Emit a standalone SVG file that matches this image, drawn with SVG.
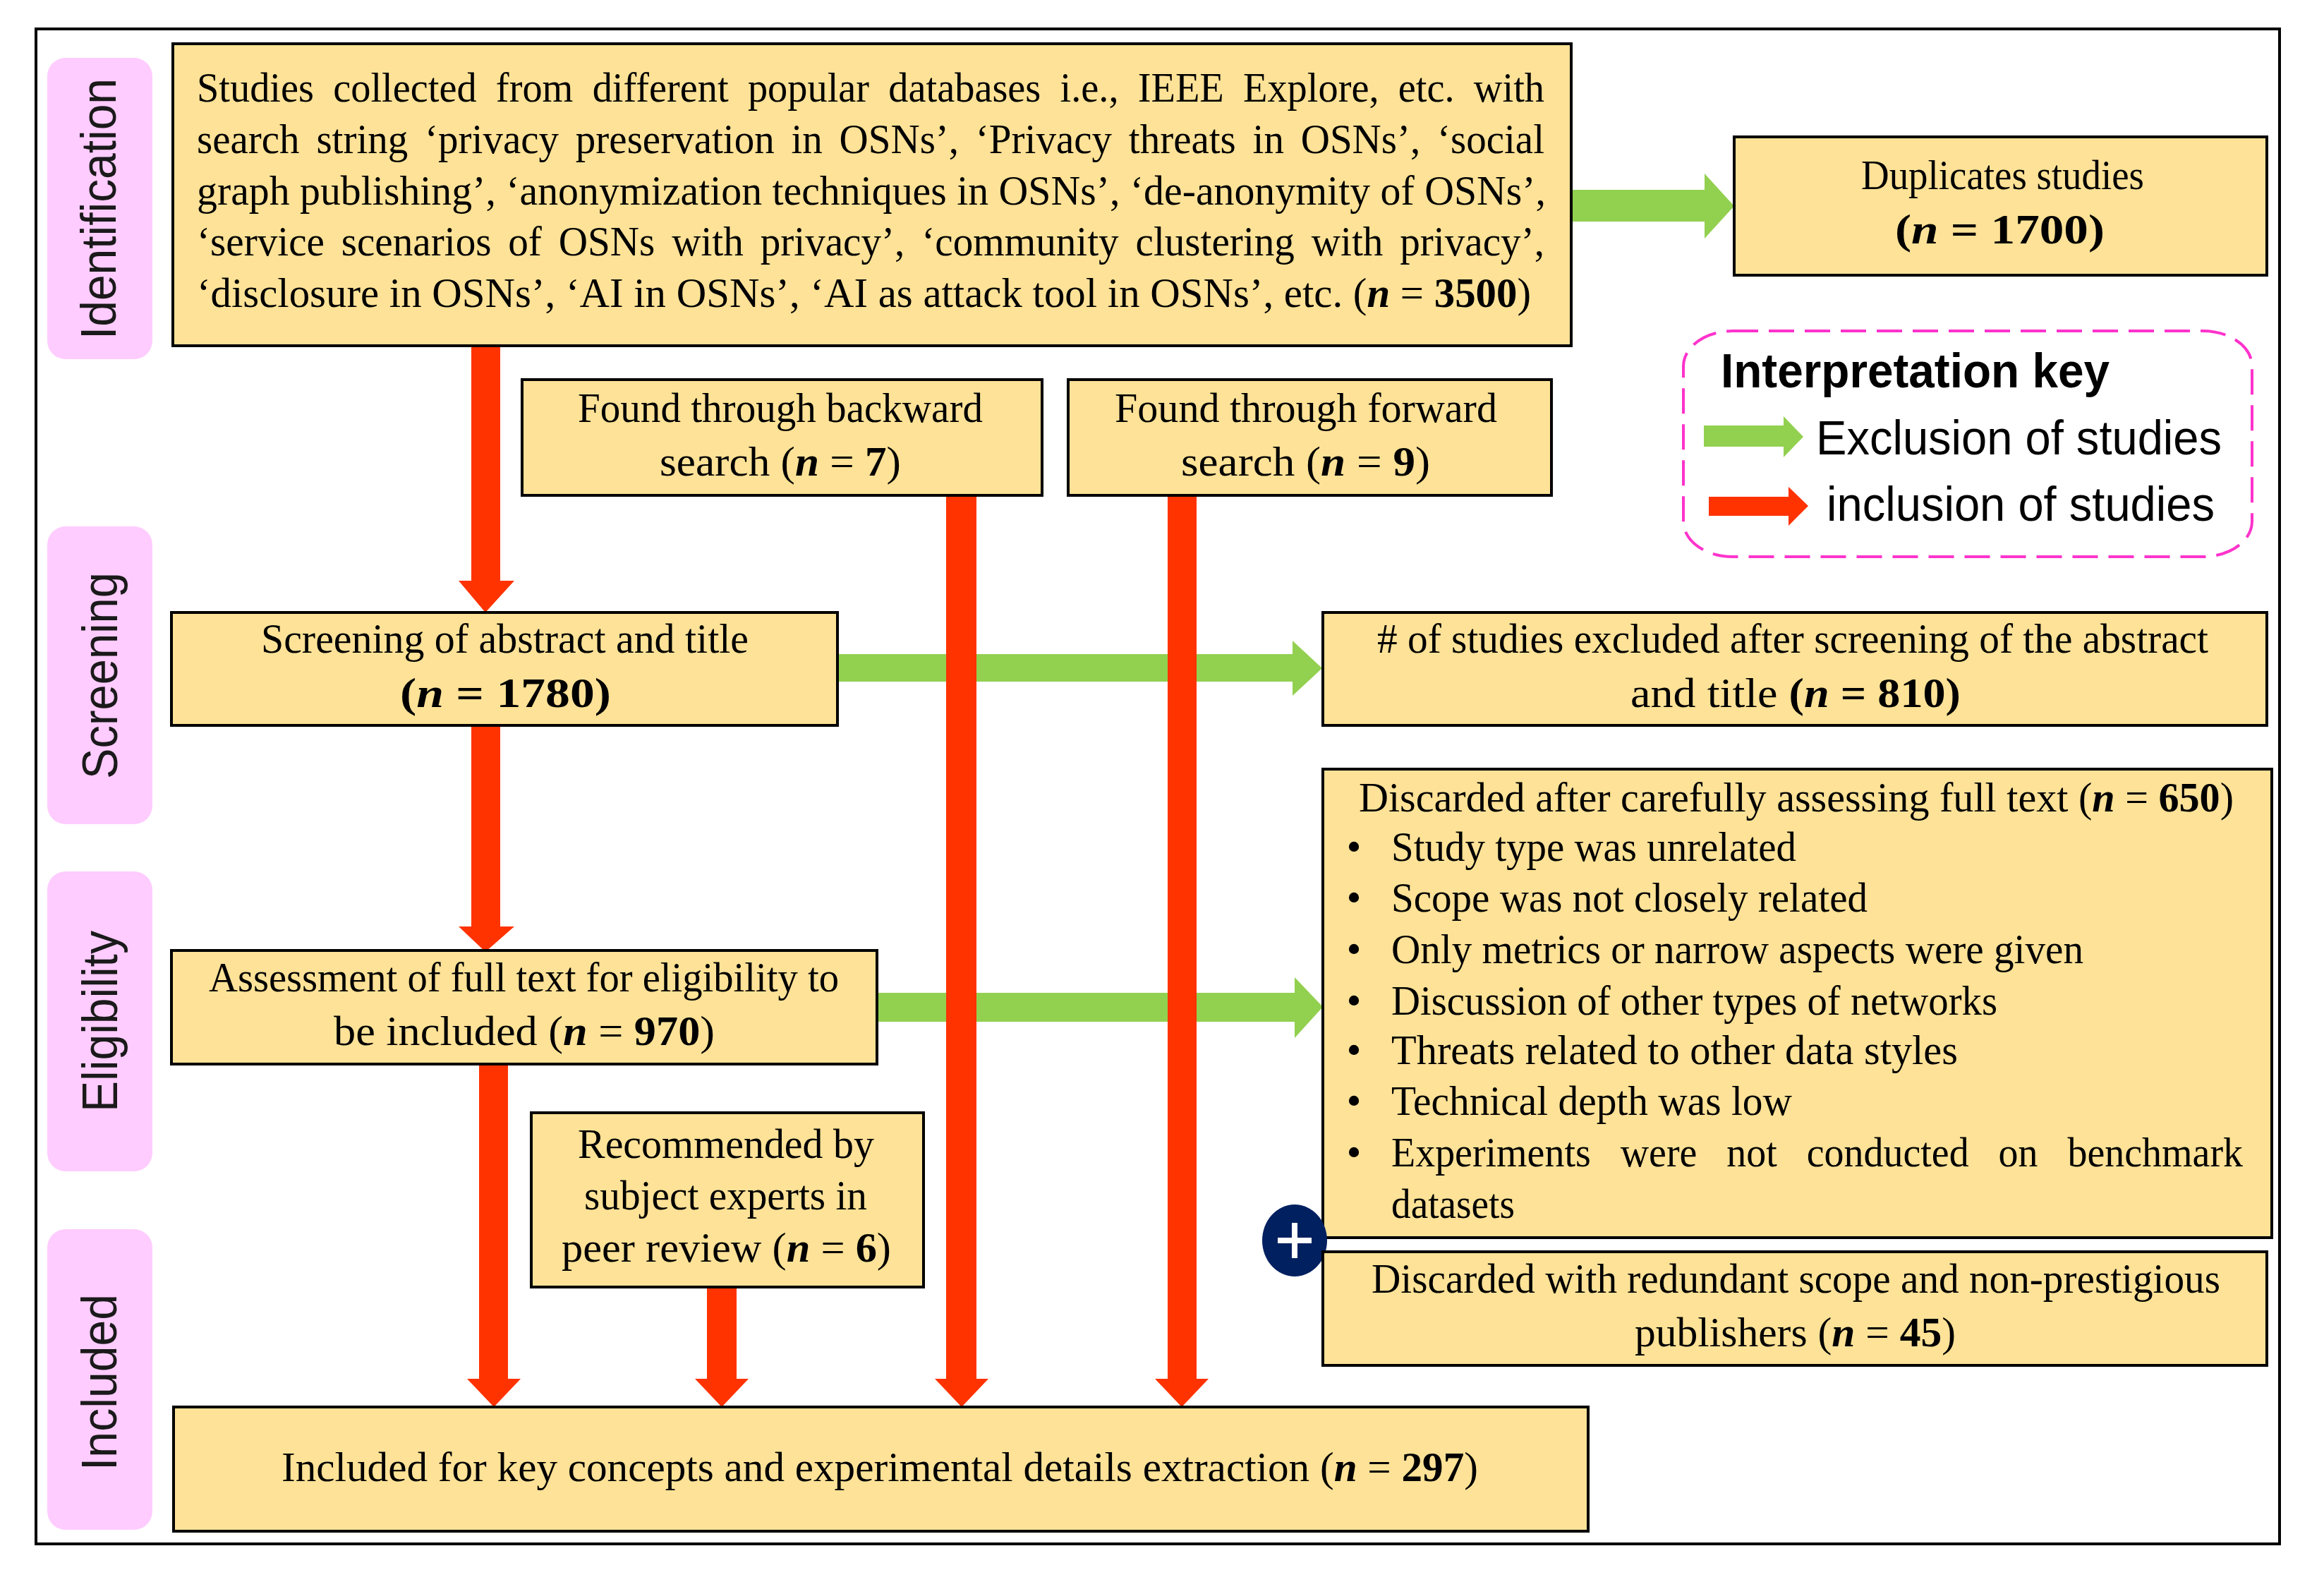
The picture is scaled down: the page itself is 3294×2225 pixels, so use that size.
<svg xmlns="http://www.w3.org/2000/svg" width="3294" height="2225" viewBox="0 0 3294 2225">
<style>
.box{fill:#FEE297;stroke:#000;stroke-width:4}
.stage{fill:#FFCCFF}
.t{font-family:"Liberation Serif","Times New Roman",serif;font-size:60px;fill:#000}
.b{font-weight:bold}
.m{font-weight:bold;font-style:italic}
.s{font-family:"Liberation Sans",Arial,sans-serif;font-size:70px;fill:#1a1a1a}
.k{font-family:"Liberation Sans",Arial,sans-serif;font-size:68px;fill:#000}
.red{fill:#FF3300}
.green{fill:#92D050}
</style>
<rect width="3294" height="2225" fill="#fff"/>
<rect id="frame" x="51" y="41" width="3180" height="2147" fill="none" stroke="#000" stroke-width="4"/>

<g id="stage-identification"><rect class="stage" x="67" y="82" width="149" height="427" rx="26"/><text class="s" transform="translate(164 481) rotate(-90)" textLength="370" lengthAdjust="spacingAndGlyphs">Identification</text></g>
<g id="stage-screening"><rect class="stage" x="67" y="746" width="149" height="422" rx="26"/><text class="s" transform="translate(166 1104) rotate(-90)" textLength="293" lengthAdjust="spacingAndGlyphs">Screening</text></g>
<g id="stage-eligibility"><rect class="stage" x="67" y="1235" width="149" height="425" rx="26"/><text class="s" transform="translate(166 1576) rotate(-90)" textLength="257" lengthAdjust="spacingAndGlyphs">Eligibility</text></g>
<g id="stage-included"><rect class="stage" x="67" y="1742" width="149" height="426" rx="26"/><text class="s" transform="translate(165 2084) rotate(-90)" textLength="250" lengthAdjust="spacingAndGlyphs">Included</text></g>

<g id="connectors">
<polygon class="green" points="2227,269 2416,269 2416,246 2458,292 2416,338 2416,314 2227,314"/>
<polygon class="green" points="1187,927 1832,927 1832,908 1874,947 1832,986 1832,966 1187,966"/>
<polygon class="green" points="1244,1407 1835,1407 1835,1385 1875,1427 1835,1471 1835,1448 1244,1448"/>
<polygon class="red" points="668,490 709,490 709,823 729,823 688,868 650,823 668,823"/>
<polygon class="red" points="668,1020 709,1020 709,1313 729,1313 688,1349 650,1313 668,1313"/>
<polygon class="red" points="679,1500 720,1500 720,1954 738,1954 700,1994 662,1954 679,1954"/>
<polygon class="red" points="1002,1824 1044,1824 1044,1954 1061,1954 1023,1994 985,1954 1002,1954"/>
<polygon class="red" points="1341,702 1384,702 1384,1954 1401,1954 1363,1994 1325,1954 1341,1954"/>
<polygon class="red" points="1655,702 1696,702 1696,1954 1713,1954 1675,1994 1637,1954 1655,1954"/>
</g>

<g id="node-studies"><rect class="box" x="245" y="62" width="1982" height="428"/>
<text class="t" x="279" y="144" textLength="1910" lengthAdjust="spacingAndGlyphs" word-spacing="14">Studies collected from different popular databases i.e., IEEE Explore, etc. with</text>
<text class="t" x="279" y="217" textLength="1910" lengthAdjust="spacingAndGlyphs" word-spacing="10">search string ‘privacy preservation in OSNs’, ‘Privacy threats in OSNs’, ‘social</text>
<text class="t" x="279" y="290" textLength="1912" lengthAdjust="spacingAndGlyphs">graph publishing’, ‘anonymization techniques in OSNs’, ‘de-anonymity of OSNs’,</text>
<text class="t" x="279" y="362" textLength="1910" lengthAdjust="spacingAndGlyphs" word-spacing="10">‘service scenarios of OSNs with privacy’, ‘community clustering with privacy’,</text>
<text class="t" x="279" y="435" textLength="1891" lengthAdjust="spacingAndGlyphs">‘disclosure in OSNs’, ‘AI in OSNs’, ‘AI as attack tool in OSNs’, etc. (<tspan class="m">n</tspan> = <tspan class="b">3500</tspan>)</text>
</g>
<g id="node-duplicates"><rect class="box" x="2458" y="194" width="755" height="196"/>
<text class="t" x="2638" y="268" textLength="401" lengthAdjust="spacingAndGlyphs">Duplicates studies</text>
<text class="t b" x="2686" y="345" textLength="297" lengthAdjust="spacingAndGlyphs">(<tspan class="m">n</tspan> = 1700)</text>
</g>
<g id="node-backward"><rect class="box" x="740" y="538" width="737" height="164"/>
<text class="t" x="819" y="598" textLength="574" lengthAdjust="spacingAndGlyphs">Found through backward</text>
<text class="t" x="935" y="674" textLength="342" lengthAdjust="spacingAndGlyphs">search (<tspan class="m">n</tspan> = <tspan class="b">7</tspan>)</text>
</g>
<g id="node-forward"><rect class="box" x="1514" y="538" width="685" height="164"/>
<text class="t" x="1580" y="598" textLength="542" lengthAdjust="spacingAndGlyphs">Found through forward</text>
<text class="t" x="1674" y="674" textLength="353" lengthAdjust="spacingAndGlyphs">search (<tspan class="m">n</tspan> = <tspan class="b">9</tspan>)</text>
</g>
<g id="node-key">
<rect x="2386" y="469" width="806" height="320" rx="70" ry="50" fill="none" stroke="#FF33CC" stroke-width="4" stroke-dasharray="36 15"/>
<text class="k b" x="2439" y="549" textLength="551" lengthAdjust="spacingAndGlyphs">Interpretation key</text>
<polygon class="green" points="2415,603 2528,603 2528,590 2556,619 2528,648 2528,633 2415,633"/>
<text class="k" x="2574" y="644" textLength="575" lengthAdjust="spacingAndGlyphs">Exclusion of studies</text>
<polygon class="red" points="2422,704 2535,704 2535,690 2563,717 2535,745 2535,731 2422,731"/>
<text class="k" x="2589" y="738" textLength="550" lengthAdjust="spacingAndGlyphs">inclusion of studies</text>
</g>
<g id="node-screening"><rect class="box" x="243" y="868" width="944" height="160"/>
<text class="t" x="370" y="925" textLength="691" lengthAdjust="spacingAndGlyphs">Screening of abstract and title</text>
<text class="t b" x="567" y="1002" textLength="299" lengthAdjust="spacingAndGlyphs">(<tspan class="m">n</tspan> = 1780)</text>
</g>
<g id="node-excluded"><rect class="box" x="1875" y="868" width="1338" height="160"/>
<text class="t" x="1952" y="925" textLength="1178" lengthAdjust="spacingAndGlyphs"># of studies excluded after screening of the abstract</text>
<text class="t" x="2311" y="1002" textLength="468" lengthAdjust="spacingAndGlyphs">and title <tspan class="b">(</tspan><tspan class="m">n</tspan><tspan class="b"> = 810)</tspan></text>
</g>
<g id="node-assessment"><rect class="box" x="243" y="1347" width="1000" height="161"/>
<text class="t" x="296" y="1405" textLength="893" lengthAdjust="spacingAndGlyphs">Assessment of full text for eligibility to</text>
<text class="t" x="473" y="1481" textLength="540" lengthAdjust="spacingAndGlyphs">be included (<tspan class="m">n</tspan> = <tspan class="b">970</tspan>)</text>
</g>
<g id="node-discarded"><rect class="box" x="1875" y="1090" width="1345" height="664"/>
<text class="t" x="1926" y="1150" textLength="1240" lengthAdjust="spacingAndGlyphs">Discarded after carefully assessing full text (<tspan class="m">n</tspan> = <tspan class="b">650</tspan>)</text>
<text class="t" x="1919" y="1220" text-anchor="middle">•</text><text class="t" x="1972" y="1220" textLength="574" lengthAdjust="spacingAndGlyphs">Study type was unrelated</text>
<text class="t" x="1919" y="1292" text-anchor="middle">•</text><text class="t" x="1972" y="1292" textLength="675" lengthAdjust="spacingAndGlyphs">Scope was not closely related</text>
<text class="t" x="1919" y="1365" text-anchor="middle">•</text><text class="t" x="1972" y="1365" textLength="981" lengthAdjust="spacingAndGlyphs">Only metrics or narrow aspects were given</text>
<text class="t" x="1919" y="1438" text-anchor="middle">•</text><text class="t" x="1972" y="1438" textLength="859" lengthAdjust="spacingAndGlyphs">Discussion of other types of networks</text>
<text class="t" x="1919" y="1508" text-anchor="middle">•</text><text class="t" x="1972" y="1508" textLength="803" lengthAdjust="spacingAndGlyphs">Threats related to other data styles</text>
<text class="t" x="1919" y="1580" text-anchor="middle">•</text><text class="t" x="1972" y="1580" textLength="568" lengthAdjust="spacingAndGlyphs">Technical depth was low</text>
<text class="t" x="1919" y="1653" text-anchor="middle">•</text><text class="t" x="1972" y="1653" textLength="1207" lengthAdjust="spacingAndGlyphs" word-spacing="30">Experiments were not conducted on benchmark</text>
<text class="t" x="1972" y="1726" textLength="175" lengthAdjust="spacingAndGlyphs">datasets</text>
</g>
<g id="node-plus">
<ellipse cx="1835" cy="1758" rx="46" ry="51" fill="#002060"/>
<path d="M1835 1733V1783M1811 1758H1859" stroke="#fff" stroke-width="8" fill="none"/>
</g>
<g id="node-redundant"><rect class="box" x="1875" y="1774" width="1338" height="161"/>
<text class="t" x="1944" y="1832" textLength="1203" lengthAdjust="spacingAndGlyphs">Discarded with redundant scope and non-prestigious</text>
<text class="t" x="2317" y="1908" textLength="455" lengthAdjust="spacingAndGlyphs">publishers (<tspan class="m">n</tspan> = <tspan class="b">45</tspan>)</text>
</g>
<g id="node-recommended"><rect class="box" x="753" y="1577" width="556" height="247"/>
<text class="t" x="819" y="1641" textLength="420" lengthAdjust="spacingAndGlyphs">Recommended by</text>
<text class="t" x="828" y="1714" textLength="401" lengthAdjust="spacingAndGlyphs">subject experts in</text>
<text class="t" x="796" y="1788" textLength="467" lengthAdjust="spacingAndGlyphs">peer review (<tspan class="m">n</tspan> = <tspan class="b">6</tspan>)</text>
</g>
<g id="node-included"><rect class="box" x="246" y="1994" width="2005" height="176"/>
<text class="t" x="399" y="2099" textLength="1696" lengthAdjust="spacingAndGlyphs">Included for key concepts and experimental details extraction (<tspan class="m">n</tspan> = <tspan class="b">297</tspan>)</text>
</g>
</svg>
